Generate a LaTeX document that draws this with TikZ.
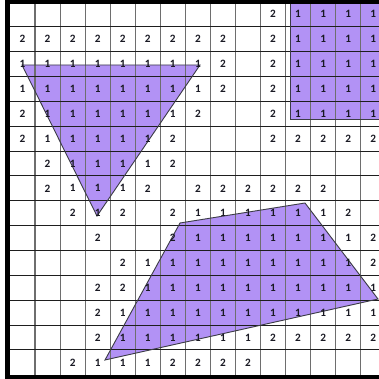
\documentclass[tikz,border=0pt]{standalone}
\usepackage{fontspec}
\setmainfont{Carlito}
\definecolor{lav}{RGB}{178,146,245}
\definecolor{vline}{RGB}{110,110,110}
\definecolor{hline}{RGB}{30,30,30}
\definecolor{digit}{RGB}{25,25,35}
\begin{document}
\begin{tikzpicture}[x=0.05cm,y=-0.05cm,
  shapefill/.style={fill=lav},
  shapeedge/.style={draw={rgb,255:red,60;green,60;blue,70},line width=1.3pt,line join=miter},
  vgrid/.style={draw=vline,line width=1.6pt},
  hgrid/.style={draw=hline,line width=1.4pt},
  border/.style={fill=black},
  num/.style={text=digit,font=\fontsize{16}{16}\selectfont\bfseries,inner sep=0pt,anchor=center}]
\useasboundingbox (0,0) rectangle (379,379);
\clip (0,0) rectangle (379,379);
% shape corners
\coordinate (t1) at (22,65);
\coordinate (t2) at (200,65);
\coordinate (t3) at (97,216);
\coordinate (s1) at (290,-3);
\coordinate (s2) at (386,119.3);
\coordinate (q1) at (180,223);
\coordinate (q2) at (305,203);
\coordinate (q3) at (378,299);
\coordinate (q4) at (105,360);
% fills
\fill[shapefill] (t1) -- (t2) -- (t3) -- cycle;
\fill[shapefill] (s1) rectangle (s2);
\fill[shapefill] (q1) -- (q2) -- (q3) -- (q4) -- cycle;
% grid
\foreach \c in {1,...,14} \draw[vgrid] ({10+25.05*\c},1.8) -- ({10+25.05*\c},375);
\foreach \r in {1,...,14} \draw[hgrid] (10,{1.8+24.87*\r}) -- (379,{1.8+24.87*\r});
% outlines
\draw[shapeedge] (t1) -- (t2) -- (t3) -- cycle;
\draw[shapeedge] (s1) rectangle (s2);
\draw[shapeedge] (q1) -- (q2) -- (q3) -- (q4) -- cycle;
% borders
\fill[border] (5,0) rectangle (379,4);
\fill[border] (5,0) rectangle (10,379);
\fill[border] (5,375) rectangle (379,379);
% numbers
\foreach \row [count=\r from 0] in {
 {0,0,0,0,0,0,0,0,0,0,2,1,1,1,1},
 {2,2,2,2,2,2,2,2,2,0,2,1,1,1,1},
 {1,1,1,1,1,1,1,1,2,0,2,1,1,1,1},
 {1,1,1,1,1,1,1,1,2,0,2,1,1,1,1},
 {2,1,1,1,1,1,1,2,0,0,2,1,1,1,1},
 {2,1,1,1,1,1,2,0,0,0,2,2,2,2,2},
 {0,2,1,1,1,1,2,0,0,0,0,0,0,0,0},
 {0,2,1,1,1,2,0,2,2,2,2,2,2,0,0},
 {0,0,2,1,2,0,2,1,1,1,1,1,1,2,0},
 {0,0,0,2,0,0,2,1,1,1,1,1,1,1,2},
 {0,0,0,0,2,1,1,1,1,1,1,1,1,1,2},
 {0,0,0,2,2,1,1,1,1,1,1,1,1,1,1},
 {0,0,0,2,1,1,1,1,1,1,1,1,1,1,1},
 {0,0,0,2,1,1,1,1,1,1,2,2,2,2,2},
 {0,0,2,1,1,1,2,2,2,2,0,0,0,0,0}} {
  \foreach \v [count=\c from 0] in \row {
    \ifnum\v>0
      \node[num] (n\r-\c) at ({10+25.05*(\c+0.5)},{1.8+24.87*(\r+0.5)}) {\v};
    \fi
  }
}
\end{tikzpicture}
\end{document}
